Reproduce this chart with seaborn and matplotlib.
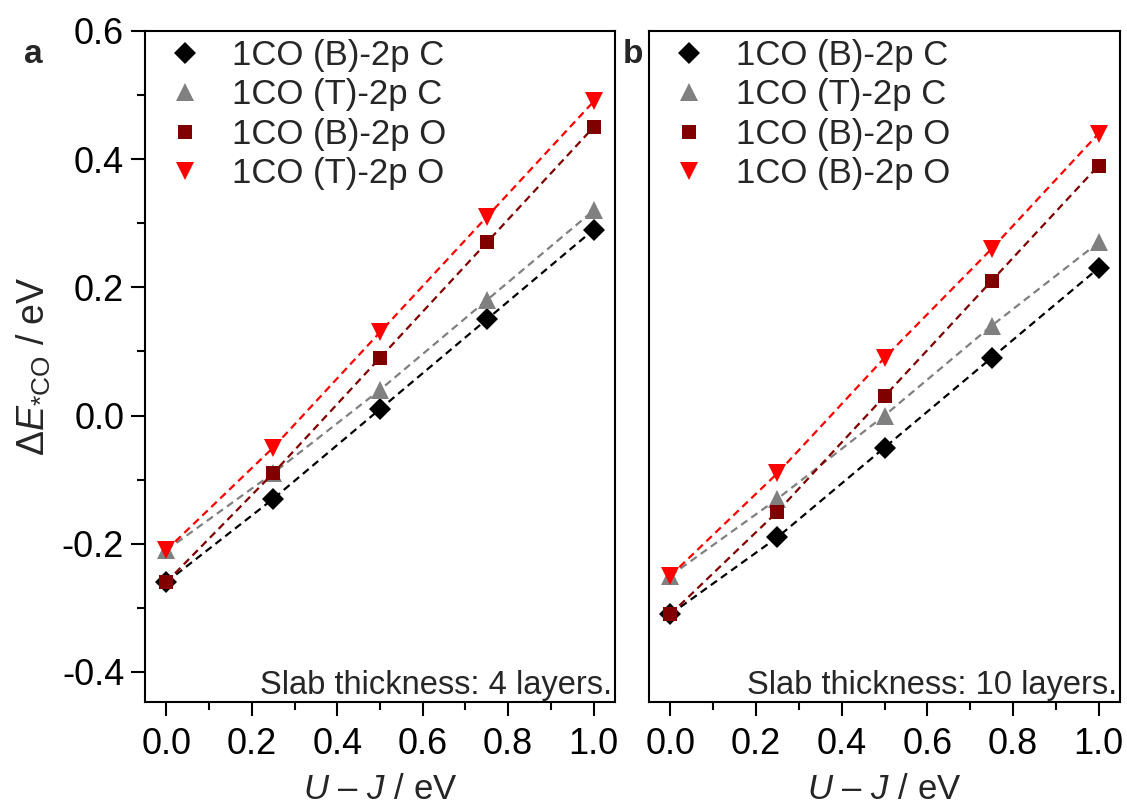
import numpy as np
import pandas as pd
import matplotlib
matplotlib.use("Agg")
import matplotlib.pyplot as plt
from matplotlib.lines import Line2D
from matplotlib.ticker import MultipleLocator, FormatStrFormatter
import seaborn as sns

# ---------------- data ----------------
u_minus_j = [0.0, 0.25, 0.5, 0.75, 1.0]

labels_a = ["1CO (B)-2p C", "1CO (T)-2p C", "1CO (B)-2p O", "1CO (T)-2p O"]
labels_b = ["1CO (B)-2p C", "1CO (T)-2p C", "1CO (B)-2p O", "1CO (B)-2p O"]

a_b_c = [-0.26, -0.13, 0.01, 0.15, 0.29]
a_t_c = [-0.21, -0.09, 0.04, 0.18, 0.32]
a_b_o = [-0.26, -0.09, 0.09, 0.27, 0.45]
a_t_o = [-0.21, -0.05, 0.13, 0.31, 0.49]

b_b_c = [-0.31, -0.19, -0.05, 0.09, 0.23]
b_t_c = [-0.25, -0.13, 0.00, 0.14, 0.27]
b_b_o = [-0.31, -0.15, 0.03, 0.21, 0.39]
b_t_o = [-0.25, -0.09, 0.09, 0.26, 0.44]

slab_a = "Slab thickness: 4 layers."
slab_b = "Slab thickness: 10 layers."

# ---------------- style ----------------
sns.set_style("ticks")
plt.rcParams["font.family"] = ["Liberation Sans", "DejaVu Sans"]
plt.rcParams["mathtext.fontset"] = "custom"
plt.rcParams["mathtext.rm"] = "Liberation Sans"
plt.rcParams["mathtext.it"] = "Liberation Sans:italic"
plt.rcParams["mathtext.bf"] = "Liberation Sans:bold"
plt.rcParams["axes.unicode_minus"] = False
plt.rcParams["lines.dashed_pattern"] = [3.4, 2.2]

colors = ["#000000", "#808080", "#800000", "#ff0000"]
markers = ["D", "^", "s", "v"]
msizes = [11, 13, 10, 13]

fig = plt.figure(figsize=(11.27, 8.05), dpi=100)
W, H = 1127, 805
top_px, bot_px = 31, 702
ax_a = fig.add_axes([145 / W, 1 - bot_px / H, 470 / W, (bot_px - top_px) / H])
ax_b = fig.add_axes([649 / W, 1 - bot_px / H, 471 / W, (bot_px - top_px) / H])

panels = [
    (ax_a, [a_b_c, a_t_c, a_b_o, a_t_o], labels_a, slab_a),
    (ax_b, [b_b_c, b_t_c, b_b_o, b_t_o], labels_b, slab_b),
]

leg_fs = 25
for ax, series, labels, slab in panels:
    for vals, col, mk, ms in zip(series, colors, markers, msizes):
        df = pd.DataFrame({"x": u_minus_j, "y": vals})
        sns.lineplot(data=df, x="x", y="y", ax=ax, color=col, linestyle="--",
                     linewidth=1.6, marker=mk, markersize=ms,
                     markeredgewidth=0, markerfacecolor=col)
    ax.set_xlim(-0.05, 1.05)
    ax.set_ylim(-0.447, 0.6)
    ax.xaxis.set_major_locator(MultipleLocator(0.2))
    ax.xaxis.set_minor_locator(MultipleLocator(0.1))
    ax.yaxis.set_major_locator(MultipleLocator(0.2))
    ax.yaxis.set_minor_locator(MultipleLocator(0.1))
    ax.xaxis.set_major_formatter(FormatStrFormatter("%.1f"))
    ax.yaxis.set_major_formatter(FormatStrFormatter("%.1f"))
    for s in ax.spines.values():
        s.set_linewidth(1.5)
        s.set_color("black")
    ax.tick_params(which="major", direction="out", length=10, width=1.5,
                   labelsize=26, pad=5, colors="black")
    ax.tick_params(axis="x", which="major", pad=8)
    ax.tick_params(which="minor", direction="out", length=5.5, width=1.5,
                   colors="black")
    ax.tick_params(which="both", top=False, right=False)
    ax.set_xlabel(r"$\mathit{U}$ – $\mathit{J}$ / eV", fontsize=25, labelpad=8)
    ax.set_ylabel("")
    handles = [Line2D([], [], linestyle="none", marker=mk, markersize=ms,
                      color=col, markeredgewidth=0)
               for col, mk, ms in zip(colors, markers, msizes)]
    ax.legend(handles, labels, loc="upper left", bbox_to_anchor=(0.044, 0.993),
              frameon=False, fontsize=leg_fs, handlelength=0.9, handletextpad=0.9,
              labelspacing=0.18, borderpad=0.1, borderaxespad=0.0)
    ax.text(0.994, 0.002, slab, transform=ax.transAxes, ha="right", va="bottom",
            fontsize=23.5)

ax_a.set_ylabel(r"$\Delta\mathit{E}_{*\mathrm{CO}}$ / eV", fontsize=27, labelpad=6)
ax_b.tick_params(axis="y", which="both", left=False, labelleft=False)

fig.text(24 / W, 1 - 63 / H, "a", fontsize=24, fontweight="bold", ha="left", va="baseline")
fig.text(623 / W, 1 - 63 / H, "b", fontsize=24, fontweight="bold", ha="left", va="baseline")

fig.savefig("out.png", dpi=100)
